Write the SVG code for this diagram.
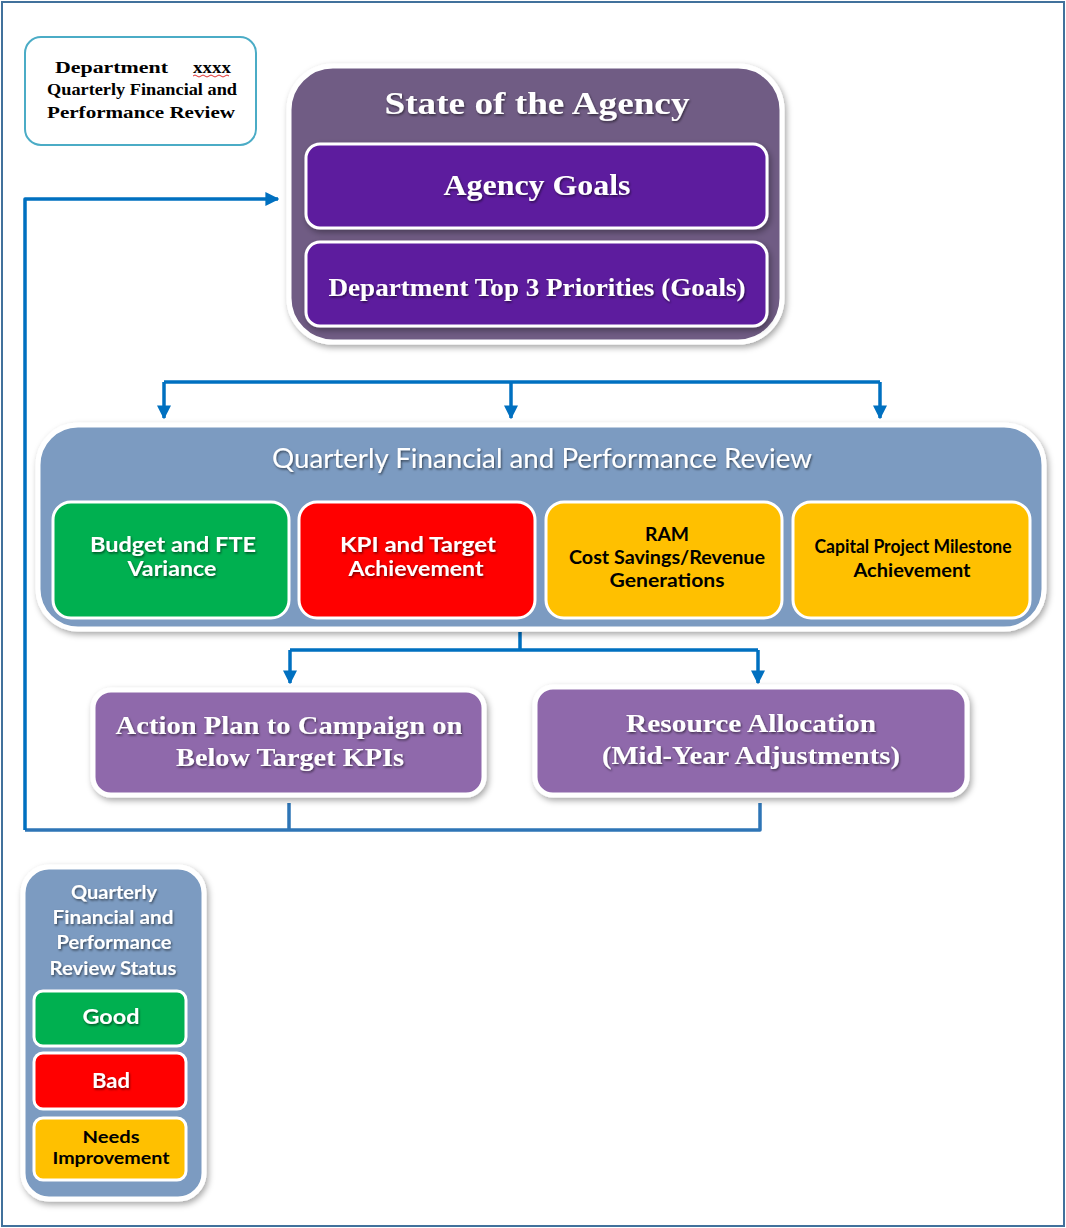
<svg xmlns="http://www.w3.org/2000/svg" width="1066" height="1228" viewBox="0 0 1066 1228">
  <defs>
    <filter id="boxShadow" x="-10%" y="-10%" width="120%" height="130%">
      <feDropShadow dx="2" dy="3" stdDeviation="3" flood-color="#000" flood-opacity="0.35"/>
    </filter>
    <filter id="textShadow" x="-5%" y="-20%" width="110%" height="150%">
      <feDropShadow dx="1" dy="1.5" stdDeviation="1" flood-color="#000" flood-opacity="0.55"/>
    </filter>
    <marker id="arrow" viewBox="0 0 10 10" refX="9" refY="5" markerWidth="4" markerHeight="4" orient="auto" markerUnits="strokeWidth">
      <path d="M0,0 L10,5 L0,10 z" fill="#0070c0"/>
    </marker>
    <style>
      .serif { font-family: "Liberation Serif", "DejaVu Serif", serif; font-weight: bold; }
      .sans { font-family: Lato, "Open Sans", "Liberation Sans", sans-serif; }
      .white { fill: #ffffff; }
      .black { fill: #000000; }
      .mid { text-anchor: middle; }
      .shadowed { filter: url(#textShadow); }
      .frame { fill: #ffffff; stroke: #41719c; stroke-width: 2; }
      .panel { stroke: #ffffff; stroke-width: 5; filter: url(#boxShadow); }
      .tile { stroke: #ffffff; stroke-width: 3; }
      .link { fill: none; stroke: #0070c0; stroke-width: 3.5; stroke-linejoin: round; }
      .return { fill: none; stroke: #2e75b6; stroke-width: 3.5; stroke-linejoin: round; }
    </style>
  </defs>

  <!-- page frame -->
  <rect class="frame" x="2" y="2" width="1062" height="1224"/>

  <!-- connectors -->
  <g id="connectors">
    <!-- feedback loop back to the agency goals -->
    <path class="return" d="M289,803 V830 M760,803 V830 H25"/>
    <path class="link" d="M25,830 V199 H278" marker-end="url(#arrow)"/>
    <!-- fan-out to the quarterly review -->
    <path class="link" d="M164,382 H880"/>
    <path class="link" d="M164,382 V418" marker-end="url(#arrow)"/>
    <path class="link" d="M511,382 V418" marker-end="url(#arrow)"/>
    <path class="link" d="M880,382 V418" marker-end="url(#arrow)"/>
    <!-- fan-out to the follow-up actions -->
    <path class="link" d="M520,632 V650 H290 M520,650 H758"/>
    <path class="link" d="M290,650 V683" marker-end="url(#arrow)"/>
    <path class="link" d="M758,650 V683" marker-end="url(#arrow)"/>
  </g>

  <!-- title box -->
  <g id="title">
    <rect x="25" y="37" width="231" height="108" rx="16" fill="#ffffff" stroke="#4bacc6" stroke-width="2"/>
    <text class="serif black" x="55" y="73" font-size="17" textLength="113" lengthAdjust="spacingAndGlyphs">Department</text>
    <text class="serif black" x="193" y="73" font-size="17" textLength="38" lengthAdjust="spacingAndGlyphs">xxxx</text>
    <path d="M193,76 q2,-2 4,0 t4,0 t4,0 t4,0 t4,0 t4,0 t4,0 t4,0 t4,0" fill="none" stroke="#e03030" stroke-width="1"/>
    <text class="serif black mid" x="142" y="95" font-size="17" textLength="190" lengthAdjust="spacingAndGlyphs">Quarterly Financial and</text>
    <text class="serif black mid" x="141" y="118" font-size="17" textLength="188" lengthAdjust="spacingAndGlyphs">Performance Review</text>
  </g>

  <!-- state of the agency -->
  <g id="state-of-agency">
    <rect class="panel" x="289" y="66" width="493" height="276" rx="44" fill="#6f5c84"/>
    <text class="serif white mid shadowed" x="537" y="114" font-size="31" textLength="305" lengthAdjust="spacingAndGlyphs">State of the Agency</text>
  </g>
  <g id="agency-goals">
    <rect class="tile" x="306" y="144" width="461" height="84" rx="14" fill="#5d1a9e" filter="url(#boxShadow)"/>
    <text class="serif white mid shadowed" x="537" y="195" font-size="29" textLength="187" lengthAdjust="spacingAndGlyphs">Agency Goals</text>
  </g>
  <g id="department-priorities">
    <rect class="tile" x="306" y="242" width="461" height="84" rx="14" fill="#5d1a9e" filter="url(#boxShadow)"/>
    <text class="serif white mid shadowed" x="537" y="296" font-size="25" textLength="417" lengthAdjust="spacingAndGlyphs">Department Top 3 Priorities (Goals)</text>
  </g>

  <!-- quarterly review -->
  <g id="quarterly-review">
    <rect class="panel" x="38" y="425" width="1006" height="204" rx="40" fill="#7b9bc1"/>
    <text class="sans white mid shadowed" x="542" y="468" font-size="26" textLength="540" lengthAdjust="spacingAndGlyphs">Quarterly Financial and Performance Review</text>
  </g>
  <g id="budget-variance">
    <rect class="tile" x="53" y="502" width="236" height="116" rx="18" fill="#00b050"/>
    <text class="sans white mid shadowed" x="173" y="552" font-size="20" font-weight="bold" textLength="166" lengthAdjust="spacingAndGlyphs">Budget and FTE</text>
    <text class="sans white mid shadowed" x="172" y="576" font-size="20" font-weight="bold" textLength="89" lengthAdjust="spacingAndGlyphs">Variance</text>
  </g>
  <g id="kpi-achievement">
    <rect class="tile" x="299" y="502" width="236" height="116" rx="18" fill="#ff0000"/>
    <text class="sans white mid shadowed" x="418" y="552" font-size="20" font-weight="bold" textLength="156" lengthAdjust="spacingAndGlyphs">KPI and Target</text>
    <text class="sans white mid shadowed" x="416" y="576" font-size="20" font-weight="bold" textLength="135" lengthAdjust="spacingAndGlyphs">Achievement</text>
  </g>
  <g id="ram-savings">
    <rect class="tile" x="546" y="502" width="236" height="116" rx="18" fill="#ffc000"/>
    <text class="sans black mid" x="667" y="541" font-size="19" font-weight="bold" textLength="44" lengthAdjust="spacingAndGlyphs">RAM</text>
    <text class="sans black mid" x="667" y="564" font-size="19" font-weight="bold" textLength="196" lengthAdjust="spacingAndGlyphs">Cost Savings/Revenue</text>
    <text class="sans black mid" x="667" y="587" font-size="19" font-weight="bold" textLength="115" lengthAdjust="spacingAndGlyphs">Generations</text>
  </g>
  <g id="capital-milestone">
    <rect class="tile" x="793" y="502" width="237" height="116" rx="18" fill="#ffc000"/>
    <text class="sans black mid" x="913" y="553" font-size="18" font-weight="bold" textLength="197" lengthAdjust="spacingAndGlyphs">Capital Project Milestone</text>
    <text class="sans black mid" x="912" y="577" font-size="18" font-weight="bold" textLength="117" lengthAdjust="spacingAndGlyphs">Achievement</text>
  </g>

  <!-- follow-up actions -->
  <g id="action-plan">
    <rect class="panel" x="93" y="690" width="391" height="105" rx="18" fill="#8f69ab"/>
    <text class="serif white mid shadowed" x="289" y="734" font-size="26" textLength="347" lengthAdjust="spacingAndGlyphs">Action Plan to Campaign on</text>
    <text class="serif white mid shadowed" x="290" y="766" font-size="26" textLength="228" lengthAdjust="spacingAndGlyphs">Below Target KPIs</text>
  </g>
  <g id="resource-allocation">
    <rect class="panel" x="535" y="687" width="432" height="108" rx="18" fill="#8f69ab"/>
    <text class="serif white mid shadowed" x="751" y="732" font-size="26" textLength="250" lengthAdjust="spacingAndGlyphs">Resource Allocation</text>
    <text class="serif white mid shadowed" x="751" y="764" font-size="26" textLength="298" lengthAdjust="spacingAndGlyphs">(Mid-Year Adjustments)</text>
  </g>

  <!-- status legend -->
  <g id="legend">
    <rect class="panel" x="23" y="867" width="181" height="332" rx="26" fill="#7b9bc1"/>
    <text class="sans white mid shadowed" x="114" y="899" font-size="19" font-weight="bold" textLength="86" lengthAdjust="spacingAndGlyphs">Quarterly</text>
    <text class="sans white mid shadowed" x="113" y="924" font-size="19" font-weight="bold" textLength="121" lengthAdjust="spacingAndGlyphs">Financial and</text>
    <text class="sans white mid shadowed" x="114" y="949" font-size="19" font-weight="bold" textLength="115" lengthAdjust="spacingAndGlyphs">Performance</text>
    <text class="sans white mid shadowed" x="113" y="975" font-size="19" font-weight="bold" textLength="127" lengthAdjust="spacingAndGlyphs">Review Status</text>
  </g>
  <g id="legend-good">
    <rect class="tile" x="34" y="991" width="152" height="55" rx="9" fill="#00b050"/>
    <text class="sans white mid shadowed" x="111" y="1024" font-size="20" font-weight="bold" textLength="57" lengthAdjust="spacingAndGlyphs">Good</text>
  </g>
  <g id="legend-bad">
    <rect class="tile" x="34" y="1053" width="152" height="56" rx="9" fill="#ff0000"/>
    <text class="sans white mid shadowed" x="111" y="1088" font-size="20" font-weight="bold" textLength="38" lengthAdjust="spacingAndGlyphs">Bad</text>
  </g>
  <g id="legend-needs-improvement">
    <rect class="tile" x="34" y="1118" width="152" height="62" rx="9" fill="#ffc000"/>
    <text class="sans black mid" x="111" y="1143" font-size="17" font-weight="bold" textLength="57" lengthAdjust="spacingAndGlyphs">Needs</text>
    <text class="sans black mid" x="111" y="1164" font-size="17" font-weight="bold" textLength="117" lengthAdjust="spacingAndGlyphs">Improvement</text>
  </g>
</svg>
